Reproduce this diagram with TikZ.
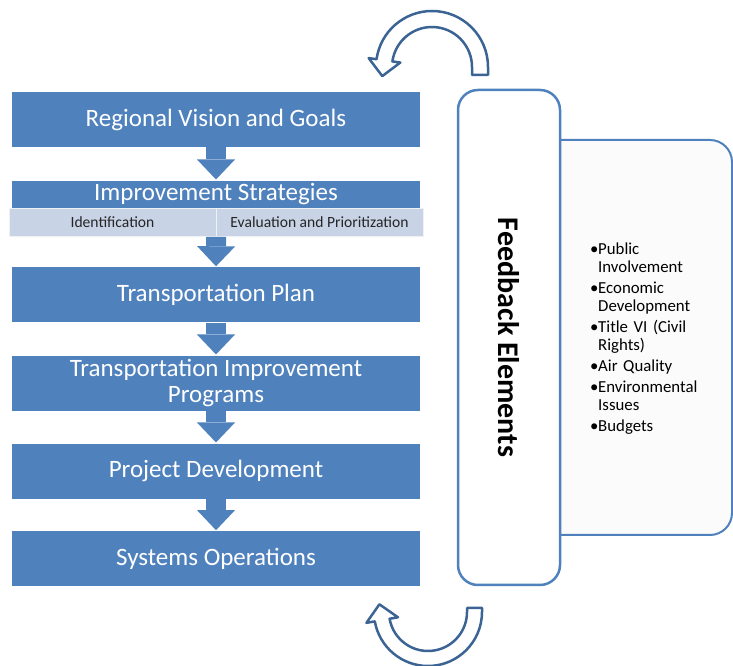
\documentclass[tikz,border=0pt]{standalone}
\usepackage{fontspec}
\setmainfont{Carlito}
\usetikzlibrary{arrows.meta}

\definecolor{boxblue}{HTML}{4F81BD}
\definecolor{subblue}{HTML}{C8D3E5}
\definecolor{turnblue}{HTML}{3B6494}
\definecolor{panelgray}{HTML}{FBFBFB}

% one bullet entry of the side list
\newcommand{\issue}[1]{\par\hangindent=8pt\hangafter=1\noindent\makebox[8pt][l]{\textbullet}#1}

\begin{document}
\begin{tikzpicture}[x=1pt, y=1pt,
  stage/.style={fill=boxblue, text=white, minimum width=408pt, minimum height=55pt,
    inner sep=0pt, align=center, font=\fontsize{25}{26}\selectfont},
  substage/.style={fill=subblue, draw=white!70!subblue, text=black!85,
    minimum width=207pt, minimum height=28.4pt, inner sep=0pt,
    font=\fontsize{15.6}{17}\selectfont},
  flow/.style={draw=boxblue, line width=20pt, shorten >=1pt,
    -{Triangle[width=38pt, length=20pt, line width=0pt]}},
  turn/.style={draw=turnblue, line width=2.5pt, fill=white, line join=round}]
  \useasboundingbox (0,0) rectangle (733,666);
  \clip (0,0) rectangle (733,666);

  % side panel with the list, partly behind the feedback box
  \node[draw=boxblue, line width=2pt, fill=panelgray, rounded corners=22pt,
    minimum width=212pt, minimum height=395pt] (extras) at (626,328.5) {};
  \node[anchor=north west, text width=138pt, inner sep=0pt,
    font=\fontsize{16.8}{18}\selectfont] (issues) at (590,433) {%
    \raggedright\setlength{\parskip}{3pt}%
    \issue{Public\newline Involvement}
    \issue{Economic\newline Development}
    \issue{Title VI (Civil\newline Rights)}
    \issue{Air Quality}
    \issue{Environmental\newline Issues}
    \issue{Budgets}};

  % feedback box
  \node[draw=boxblue, line width=2.5pt, fill=white, rounded corners=20pt, rotate=-90,
    minimum width=495pt, minimum height=102pt, inner sep=0pt,
    font=\bfseries\fontsize{30}{32}\selectfont] (feedback) at (509,328.5) {Feedback Elements};

  % planning stages
  \node[stage] (vision) at (216,546.2) {Regional Vision and Goals};
  \node[stage, minimum height=27.6pt] (strat) at (216,471.5) {Improvement Strategies};
  \node[substage] (ident) at (112.5,443.5) {Identification};
  \node[substage] (evalprio) at (319.5,443.5) {Evaluation and Prioritization};
  \node[stage] (plan) at (216,371) {Transportation Plan};
  \node[stage] (tprog) at (216,282.8) {Transportation Improvement\\Programs};
  \node[stage] (devel) at (216,194.8) {Project Development};
  \node[stage] (ops) at (216,107.1) {Systems Operations};

  % down arrows
  \draw[flow] (vision.south) -- (strat.north);
  \draw[flow] (ident.south east) -- (plan.north);
  \draw[flow] (plan.south) -- (tprog.north);
  \draw[flow] (tprog.south) -- (devel.north);
  \draw[flow] (devel.south) -- (ops.north);

  % turning arrow above
  \begin{scope}[shift={(432,599)}]
    \draw[turn] (40,-8) -- (56,-8) -- (0:56) arc[start angle=0, end angle=172, radius=56]
      -- (172:64) -- (-49.7,-9.1) -- (172:32) -- (172:40)
      arc[start angle=172, end angle=0, radius=40] -- cycle;
  \end{scope}
  % turning arrow below
  \begin{scope}[shift={(428,54)}]
    \draw[turn] (39,4) -- (54,4) -- (0:54) arc[start angle=0, end angle=-170, radius=54]
      -- (-170:62.5) -- (-48.6,7.7) -- (-170:30.5) -- (-170:39)
      arc[start angle=-170, end angle=0, radius=39] -- cycle;
  \end{scope}
\end{tikzpicture}
\end{document}
